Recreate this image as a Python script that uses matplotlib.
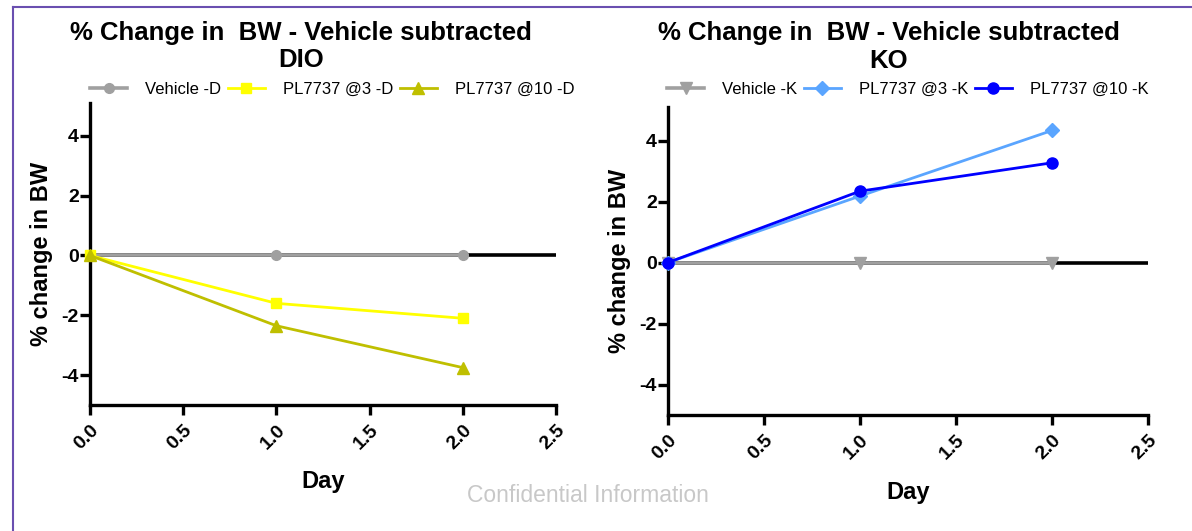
import matplotlib
matplotlib.use("Agg")
from matplotlib import pyplot as plt
from matplotlib.lines import Line2D

plt.rcParams['font.family'] = ['Liberation Sans', 'DejaVu Sans']

days = [0, 1, 2]

# DIO group
dio_vehicle = [0, 0, 0]
dio_pl3 = [0, -1.6, -2.1]
dio_pl10 = [0, -2.35, -3.75]

# KO group
ko_vehicle = [0, 0, 0]
ko_pl3 = [0, 2.18, 4.33]
ko_pl10 = [0, 2.34, 3.27]

x_ticks = [0.0, 0.5, 1.0, 1.5, 2.0, 2.5]
y_ticks = [-4, -2, 0, 2, 4]

fig = plt.figure(figsize=(11.92, 5.31), dpi=100)

# purple frame lines (left and top)
fig.add_artist(Line2D([13/1192, 13/1192], [0, 1 - 7/531], color='#6a4fb0', lw=1.5))
fig.add_artist(Line2D([13/1192, 1], [1 - 7/531, 1 - 7/531], color='#6a4fb0', lw=1.5))


def style_axes(ax, xpad):
    ax.set_xlim(0, 2.5)
    ax.set_ylim(-5, 5.1)
    ax.spines['top'].set_visible(False)
    ax.spines['right'].set_visible(False)
    for s in ['left', 'bottom']:
        ax.spines[s].set_linewidth(2.4)
    ax.tick_params(width=2.4, length=7, direction='out', labelsize=14)
    ax.tick_params(axis='y', pad=1)
    ax.tick_params(axis='x', pad=5)
    ax.set_xticks(x_ticks)
    ax.set_xticklabels(['%.1f' % t for t in x_ticks], rotation=45,
                       ha='right', rotation_mode='anchor', fontweight='bold')
    ax.set_yticks(y_ticks)
    ax.set_yticklabels([str(t) for t in y_ticks], fontweight='bold')
    ax.axhline(0, color='black', lw=2.6, zorder=1)
    ax.set_xlabel('Day', fontsize=17, fontweight='bold', labelpad=xpad)
    ax.set_ylabel('% change in BW', fontsize=17, fontweight='bold', labelpad=6)


leg_kw = dict(loc='center', ncol=3, frameon=False, fontsize=12,
              handlelength=2.2, columnspacing=0.4, handletextpad=1.1)

ax1 = fig.add_axes([90/1192, 1 - 405/531, (556 - 90)/1192, (405 - 103)/531])
ax1.plot(days, dio_vehicle, color='#a0a0a0', marker='o', ms=7, lw=2.6,
         label='Vehicle -D', zorder=3, clip_on=False)
ax1.plot(days, dio_pl3, color='#ffff00', marker='s', ms=7, lw=2,
         label='PL7737 @3 -D', zorder=4, clip_on=False)
ax1.plot(days, dio_pl10, color='#bfbf00', marker='^', ms=8, lw=2,
         label='PL7737 @10 -D', zorder=4, clip_on=False)
style_axes(ax1, 12)
ax1.set_title('% Change in  BW - Vehicle subtracted\nDIO', fontsize=18.5,
              fontweight='bold', x=0.453, y=1.09, linespacing=1.2)
ax1.legend(bbox_to_anchor=(0.52, 1.046), **leg_kw)

ax2 = fig.add_axes([668/1192, 1 - 415/531, (1148 - 668)/1192, (415 - 107)/531])
ax2.plot(days, ko_vehicle, color='#a0a0a0', marker='v', ms=8, lw=2.6,
         label='Vehicle -K', zorder=3, clip_on=False)
ax2.plot(days, ko_pl3, color='#5aa5ff', marker='D', ms=7, lw=2,
         label='PL7737 @3 -K', zorder=4, clip_on=False)
ax2.plot(days, ko_pl10, color='#0000ff', marker='o', ms=8, lw=2,
         label='PL7737 @10 -K', zorder=5, clip_on=False)
style_axes(ax2, 13)
ax2.set_title('% Change in  BW - Vehicle subtracted\nKO', fontsize=18.5,
              fontweight='bold', x=0.46, y=1.10, linespacing=1.2)
ax2.legend(bbox_to_anchor=(0.5, 1.058), **leg_kw)

fig.text(588/1192, 1 - 496/531, 'Confidential Information', color='#c8c8c8',
         fontsize=16.5, ha='center', va='center')

fig.savefig('out.png', dpi=100)
